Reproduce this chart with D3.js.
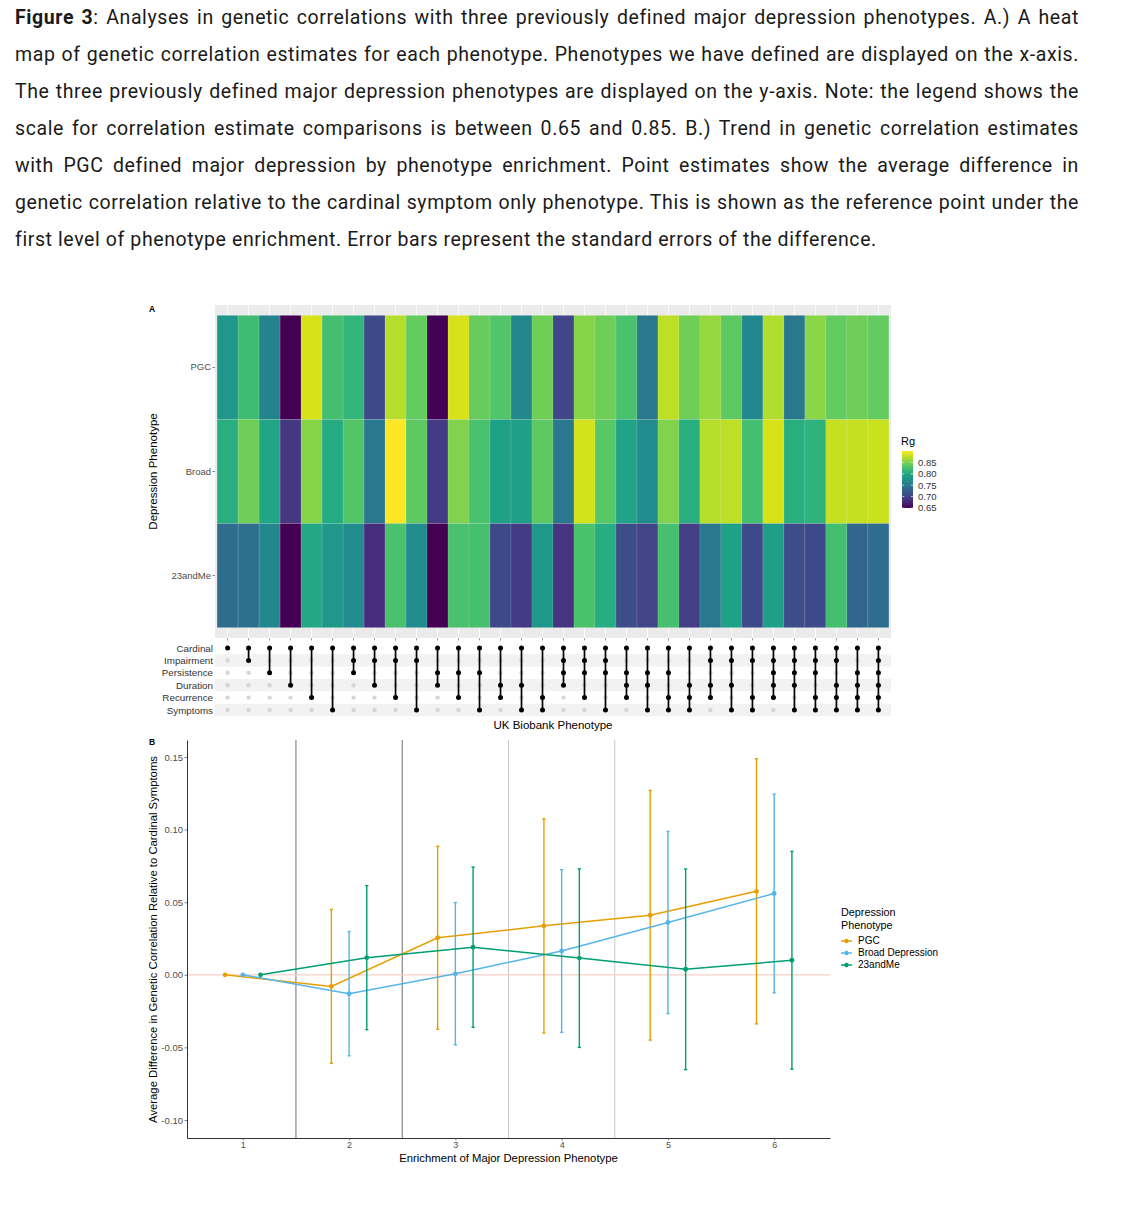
<!DOCTYPE html>
<html>
<head>
<meta charset="utf-8">
<script src="https://cdn.jsdelivr.net/npm/d3@7"></script>
<style>
  body { margin: 0; background: #fff; width: 1144px; height: 1208px; overflow: hidden; position: relative; }
  #caption { position: absolute; left: 15px; top: -1px; width: 1064px; font-family: Roboto, "Liberation Sans", sans-serif; font-size: 19.5px; letter-spacing: 0.6px; line-height: 37px; color: #1a1a1a; }
  #caption div { white-space: nowrap; text-align: justify; text-align-last: justify; }
  #caption div.last { text-align-last: left; }
  svg { position: absolute; left: 0; top: 0; font-family: "Liberation Sans", Arial, sans-serif; }
</style>
</head>
<body>
<div id="caption">
  <div><b>Figure 3</b>: Analyses in genetic correlations with three previously defined major depression phenotypes. A.) A heat</div>
  <div>map of genetic correlation estimates for each phenotype. Phenotypes we have defined are displayed on the x-axis.</div>
  <div>The three previously defined major depression phenotypes are displayed on the y-axis. Note: the legend shows the</div>
  <div>scale for correlation estimate comparisons is between 0.65 and 0.85. B.) Trend in genetic correlation estimates</div>
  <div>with PGC defined major depression by phenotype enrichment. Point estimates show the average difference in</div>
  <div>genetic correlation relative to the cardinal symptom only phenotype. This is shown as the reference point under the</div>
  <div class="last">first level of phenotype enrichment. Error bars represent the standard errors of the difference.</div>
</div>
<div id="chart"></div>
<script>
const $ = (element) => d3.select(element);

// ---- panel A data ----
const phenos = ["PGC", "Broad", "23andMe"];
const symptoms = ["Cardinal", "Impairment", "Persistence", "Duration", "Recurrence", "Symptoms"];
const symptomCodes = ["C", "I", "P", "D", "R", "S"];
// UK Biobank phenotypes: which symptoms are combined in each column
const combos = [
  "C", "CI", "CP", "CD", "CR", "CS",
  "CIP", "CID", "CIR", "CIS", "CPD", "CPR", "CPS", "CDR", "CDS", "CRS",
  "CIPD", "CIPR", "CIPS", "CPDR", "CPDS", "CPRS", "CDRS", "CIDR", "CIDS", "CIRS",
  "CIPDR", "CIPDS", "CIPRS", "CIDRS", "CPDRS", "CIPDRS",
];
const rgPGC = [
  0.783, 0.822, 0.762, 0.650, 0.885, 0.825, 0.815, 0.705, 0.872, 0.840, 0.651,
  0.885, 0.842, 0.832, 0.767, 0.845, 0.702, 0.855, 0.845, 0.828, 0.750, 0.875,
  0.845, 0.860, 0.838, 0.767, 0.870, 0.750, 0.857, 0.840, 0.845, 0.840,
];
const rgBroad = [
  0.808, 0.845, 0.798, 0.690, 0.855, 0.803, 0.832, 0.750, 0.900, 0.838, 0.693,
  0.853, 0.828, 0.793, 0.790, 0.838, 0.750, 0.883, 0.835, 0.795, 0.770, 0.853,
  0.808, 0.872, 0.875, 0.825, 0.885, 0.808, 0.812, 0.878, 0.878, 0.880,
];
const rg23andMe = [
  0.738, 0.740, 0.767, 0.650, 0.800, 0.783, 0.770, 0.683, 0.828, 0.770, 0.650,
  0.828, 0.826, 0.705, 0.693, 0.783, 0.688, 0.828, 0.805, 0.708, 0.700, 0.826,
  0.695, 0.750, 0.793, 0.705, 0.790, 0.708, 0.705, 0.825, 0.733, 0.738,
];
const rgTicks = [0.65, 0.70, 0.75, 0.80, 0.85];

// ---- panel B data ----
const levels = [1, 2, 3, 4, 5, 6];
const groups = ["PGC", "Broad Depression", "23andMe"];
const estPGC = [0, -0.008, 0.0255, 0.0337, 0.041, 0.0575];
const errPGC = [0, 0.053, 0.063, 0.0738, 0.086, 0.0913];
const estBroad = [0, -0.013, 0.0007, 0.0164, 0.036, 0.056];
const errBroad = [0, 0.0428, 0.049, 0.056, 0.0627, 0.0684];
const est23andMe = [0, 0.0118, 0.019, 0.0115, 0.0038, 0.010];
const err23andMe = [0, 0.0496, 0.0552, 0.0615, 0.0691, 0.075];
const yTicksB = [-0.10, -0.05, 0.00, 0.05, 0.10, 0.15];

const groupColors = ["#E69F00", "#56B4E9", "#009E73"];
const axisGrey = "#4d4d4d";

const svg = $("#chart").append("svg").attr("width", 1144).attr("height", 1208);

// ================= panel A : heat map =================
const rgRows = [rgPGC, rgBroad, rg23andMe];
const cells = [];
phenos.forEach((p, r) => combos.forEach((c, i) => cells.push({ pheno: p, combo: c, rg: rgRows[r][i] })));

const color = d3.scaleSequential(d3.interpolateViridis).domain([0.65, 0.90]);
const xHM = d3.scaleBand().domain(combos).range([217.1, 888.9]);
const yHM = d3.scaleBand().domain(phenos).range([315.4, 627.6]);
const bw = xHM.bandwidth();
const hmX0 = 217.1 - 0.1 * bw, hmX1 = 888.9 + 0.1 * bw;
const hmY0 = 315.4 - 0.1 * yHM.bandwidth(), hmY1 = 627.6 + 0.1 * yHM.bandwidth();

const hm = svg.append("g");
hm.append("rect").attr("x", hmX0).attr("y", hmY0).attr("width", hmX1 - hmX0).attr("height", hmY1 - hmY0).attr("fill", "#ebebeb");
hm.selectAll("line.grid").data(combos).join("line")
  .attr("x1", (d) => xHM(d) + bw / 2).attr("x2", (d) => xHM(d) + bw / 2)
  .attr("y1", hmY0).attr("y2", hmY1).attr("stroke", "#fff").attr("stroke-width", 0.8);
hm.selectAll("rect.tile").data(cells).join("rect")
  .attr("x", (d) => xHM(d.combo)).attr("y", (d) => yHM(d.pheno))
  .attr("width", bw).attr("height", yHM.bandwidth())
  .attr("fill", (d) => color(d.rg))
  .attr("stroke", "rgba(255,255,255,0.18)").attr("stroke-width", 0.6);

// x ticks under heat map (labels blank)
hm.selectAll("line.xt").data(combos).join("line")
  .attr("x1", (d) => xHM(d) + bw / 2).attr("x2", (d) => xHM(d) + bw / 2)
  .attr("y1", hmY1).attr("y2", hmY1 + 2.5).attr("stroke", "#555").attr("stroke-width", 0.6);

const yAxisHM = hm.append("g").attr("transform", `translate(${hmX0},0)`)
  .call(d3.axisLeft(yHM).tickSize(2.5).tickPadding(1.5));
yAxisHM.select(".domain").remove();
yAxisHM.selectAll("line").attr("stroke", "#333").attr("stroke-width", 0.6);
yAxisHM.selectAll("text").attr("font-size", 9.5).attr("fill", axisGrey).attr("font-family", "Liberation Sans, Arial, sans-serif");

svg.append("text").attr("x", 152).attr("y", 312).attr("font-size", 8.5).attr("font-weight", "bold").attr("text-anchor", "middle").text("A");
svg.append("text").attr("transform", `translate(157,${(hmY0 + hmY1) / 2}) rotate(-90)`)
  .attr("text-anchor", "middle").attr("font-size", 11.5).text("Depression Phenotype");

// colour bar legend
const defs = svg.append("defs");
const grad = defs.append("linearGradient").attr("id", "rg-grad").attr("x1", 0).attr("x2", 0).attr("y1", 1).attr("y2", 0);
d3.range(0, 1.0001, 0.1).forEach((t) => grad.append("stop").attr("offset", t).attr("stop-color", d3.interpolateViridis(t)));
const yLeg = d3.scaleLinear().domain([0.65, 0.90]).range([508, 451]);
const leg = svg.append("g");
leg.append("text").attr("x", 901).attr("y", 445).attr("font-size", 11).text("Rg");
leg.append("rect").attr("x", 902).attr("y", 451).attr("width", 11).attr("height", 57).attr("fill", "url(#rg-grad)");
leg.selectAll("line.tl").data(rgTicks).join("line")
  .attr("x1", 902).attr("x2", 904.2).attr("y1", (d) => yLeg(d)).attr("y2", (d) => yLeg(d)).attr("stroke", "#fff").attr("stroke-width", 0.6);
leg.selectAll("line.tr").data(rgTicks).join("line")
  .attr("x1", 910.8).attr("x2", 913).attr("y1", (d) => yLeg(d)).attr("y2", (d) => yLeg(d)).attr("stroke", "#fff").attr("stroke-width", 0.6);
leg.selectAll("text.lab").data(rgTicks).join("text")
  .attr("x", 918).attr("y", (d) => yLeg(d) + 3.3).attr("font-size", 9.5).attr("fill", "#333").text((d) => d.toFixed(2));

// ================= panel A : symptom matrix =================
const yUp = d3.scalePoint().domain(symptoms).range([648, 710]);
const rowStep = yUp.step();
const up = svg.append("g");
up.selectAll("rect.stripe").data(symptoms.filter((_, i) => i % 2 === 1)).join("rect")
  .attr("x", hmX0).attr("width", hmX1 - hmX0)
  .attr("y", (d) => yUp(d) - rowStep / 2).attr("height", rowStep).attr("fill", "#f2f2f2");
up.selectAll("text.row").data(symptoms).join("text")
  .attr("x", 213).attr("y", (d) => yUp(d) + 3.5).attr("text-anchor", "end")
  .attr("font-size", 9.8).attr("fill", "#333").text((d) => d);

const members = (combo) => symptomCodes.map((c, i) => ({ sym: symptoms[i], on: combo.includes(c) }));
combos.forEach((combo) => {
  const cx = xHM(combo) + bw / 2;
  const m = members(combo);
  const on = m.filter((d) => d.on);
  const g = up.append("g");
  g.selectAll("circle.off").data(m.filter((d) => !d.on)).join("circle")
    .attr("cx", cx).attr("cy", (d) => yUp(d.sym)).attr("r", 2.2).attr("fill", "#d6d6d6");
  if (on.length > 1) {
    g.append("line").attr("x1", cx).attr("x2", cx)
      .attr("y1", yUp(on[0].sym)).attr("y2", yUp(on[on.length - 1].sym))
      .attr("stroke", "#000").attr("stroke-width", 1.7);
  }
  g.selectAll("circle.on").data(on).join("circle")
    .attr("cx", cx).attr("cy", (d) => yUp(d.sym)).attr("r", 2.5).attr("fill", "#000");
});
svg.append("text").attr("x", (hmX0 + hmX1) / 2).attr("y", 729).attr("text-anchor", "middle")
  .attr("font-size", 11.5).text("UK Biobank Phenotype");

// ================= panel B : trend =================
const bX0 = 187, bX1 = 830, bY0 = 740, bY1 = 1138;
const x = d3.scaleLinear().domain([0.475, 6.525]).range([bX0, bX1]);
const y = d3.scaleLinear().domain([-0.1124, 0.1617]).range([bY1, bY0]);
const dodge = [-1 / 6, 0, 1 / 6];
const est = [estPGC, estBroad, est23andMe];
const err = [errPGC, errBroad, err23andMe];

const pb = svg.append("g");
// separators between enrichment levels
[1.5, 2.5, 3.5, 4.5].forEach((v, i) => {
  pb.append("line").attr("x1", x(v)).attr("x2", x(v)).attr("y1", bY0).attr("y2", bY1)
    .attr("stroke", i < 2 ? "#6e6e6e" : "#c8c8c8").attr("stroke-width", 1);
});
pb.append("line").attr("x1", bX0).attr("x2", bX1).attr("y1", y(0)).attr("y2", y(0))
  .attr("stroke", "#f6cfca").attr("stroke-width", 1.3);

groups.forEach((gname, gi) => {
  const pts = levels.map((lv, i) => ({ x: lv + dodge[gi], est: est[gi][i], err: err[gi][i] }));
  const g = pb.append("g");
  g.append("path").datum(pts)
    .attr("d", d3.line().x((d) => x(d.x)).y((d) => y(d.est)))
    .attr("fill", "none").attr("stroke", groupColors[gi]).attr("stroke-width", 1.5);
  const bars = pts.filter((d) => d.err > 0);
  g.selectAll("line.eb").data(bars).join("line")
    .attr("x1", (d) => x(d.x)).attr("x2", (d) => x(d.x))
    .attr("y1", (d) => y(d.est - d.err)).attr("y2", (d) => y(d.est + d.err))
    .attr("stroke", groupColors[gi]).attr("stroke-width", 1.4);
  [-1, 1].forEach((s) => {
    g.selectAll(`line.cap${s}`).data(bars).join("line")
      .attr("x1", (d) => x(d.x) - 1.6).attr("x2", (d) => x(d.x) + 1.6)
      .attr("y1", (d) => y(d.est + s * d.err)).attr("y2", (d) => y(d.est + s * d.err))
      .attr("stroke", groupColors[gi]).attr("stroke-width", 1.4);
  });
  g.selectAll("circle").data(pts).join("circle")
    .attr("cx", (d) => x(d.x)).attr("cy", (d) => y(d.est)).attr("r", 2.4).attr("fill", groupColors[gi]);
});

const yAxisB = pb.append("g").attr("transform", `translate(${bX0},0)`)
  .call(d3.axisLeft(y).tickValues(yTicksB).tickFormat((d) => d.toFixed(2)).tickSize(2.5).tickSizeOuter(0).tickPadding(1.5));
const xAxisB = pb.append("g").attr("transform", `translate(0,${bY1})`)
  .call(d3.axisBottom(x).tickValues(levels).tickFormat(d3.format("d")).tickSize(2.5).tickSizeOuter(0).tickPadding(1.5));
[yAxisB, xAxisB].forEach((a) => {
  a.select(".domain").attr("stroke", "#333").attr("stroke-width", 1);
  a.selectAll(".tick line").attr("stroke", "#333").attr("stroke-width", 0.6);
  a.selectAll("text").attr("font-size", 9).attr("fill", axisGrey).attr("font-family", "Liberation Sans, Arial, sans-serif");
});
yAxisB.selectAll("text").attr("font-size", 9.5);

svg.append("text").attr("x", 152).attr("y", 745).attr("font-size", 8.5).attr("font-weight", "bold").attr("text-anchor", "middle").text("B");
svg.append("text").attr("x", (bX0 + bX1) / 2).attr("y", 1162).attr("text-anchor", "middle")
  .attr("font-size", 11.3).text("Enrichment of Major Depression Phenotype");
svg.append("text").attr("transform", `translate(157,${(y(0.15) + y(-0.10)) / 2 + 1}) rotate(-90)`)
  .attr("text-anchor", "middle").attr("font-size", 11.3)
  .text("Average Difference in Genetic Correlation Relative to Cardinal Symptoms");

// legend for panel B
const lb = svg.append("g").attr("font-size", 10.8);
lb.append("text").attr("x", 841).attr("y", 916).text("Depression");
lb.append("text").attr("x", 841).attr("y", 929).text("Phenotype");
groups.forEach((gname, gi) => {
  const yy = 941 + gi * 12;
  lb.append("line").attr("x1", 841).attr("x2", 852).attr("y1", yy).attr("y2", yy)
    .attr("stroke", groupColors[gi]).attr("stroke-width", 1.5);
  lb.append("circle").attr("cx", 846.5).attr("cy", yy).attr("r", 2.2).attr("fill", groupColors[gi]);
  lb.append("text").attr("x", 858).attr("y", yy + 3.4).attr("font-size", 10).text(gname);
});
</script>
</body>
</html>
